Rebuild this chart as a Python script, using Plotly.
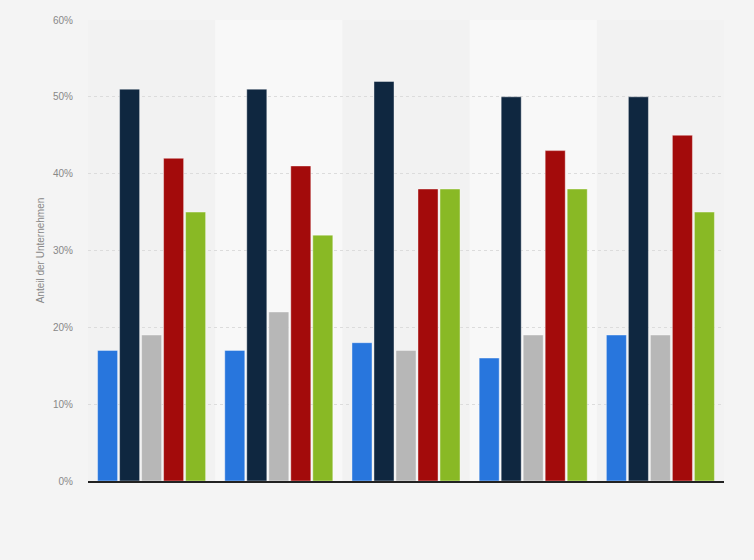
import plotly.graph_objects as go

# Gruppen (keine Beschriftung im Original sichtbar)
categories = ["A", "B", "C", "D", "E"]

series_names = ["Reihe 1", "Reihe 2", "Reihe 3", "Reihe 4", "Reihe 5"]
series_values = [
    [17, 17, 18, 16, 19],
    [51, 51, 52, 50, 50],
    [19, 22, 17, 19, 19],
    [42, 41, 38, 43, 45],
    [35, 32, 38, 38, 35],
]
colors = ["#2876dd", "#0f2740", "#b7b7b7", "#a30b0b", "#89b925"]

y_ticks = [0, 10, 20, 30, 40, 50, 60]
y_labels = ["0%", "10%", "20%", "30%", "40%", "50%", "60%"]

fig = go.Figure()

for name, vals, col in zip(series_names, series_values, colors):
    fig.add_trace(go.Bar(
        x=categories,
        y=vals,
        name=name,
        marker=dict(color=col, line=dict(color="rgba(255,255,255,0.4)", width=1)),
        hovertemplate='%{y}%<extra>' + name + '</extra>'
    ))

# lighter bands behind every second group
for i in (1, 3):
    fig.add_shape(type="rect", xref="x", yref="paper",
                  x0=i - 0.5, x1=i + 0.5, y0=0, y1=1,
                  fillcolor="#f8f8f8", line_width=0, layer="below")

fig.update_layout(
    width=754,
    height=560,
    paper_bgcolor="#f4f4f4",
    plot_bgcolor="#f2f2f2",
    margin=dict(l=88, r=30, t=20, b=79),
    barmode="group",
    bargap=0.135,
    bargroupgap=0.09,
    showlegend=False,
    font=dict(family="Arial, Liberation Sans, sans-serif", size=10, color="#888888"),
    xaxis=dict(
        range=[-0.5, 4.5],
        showticklabels=False,
        showgrid=False,
        showline=True,
        linecolor="#222222",
        linewidth=1.5,
        ticks="",
        zeroline=False,
    ),
    yaxis=dict(
        range=[0, 60],
        tickvals=y_ticks,
        ticktext=y_labels,
        showgrid=True,
        gridcolor="#dcdcdc",
        griddash="dot",
        gridwidth=1,
        zeroline=False,
        ticks="",
        ticklabelstandoff=14,
        title=dict(text="Anteil der Unternehmen", font=dict(size=10, color="#888888"), standoff=6),
    ),
)

# page without the default body margin, no modebar
fig.write_html("out.html", config={"displayModeBar": False},
               post_script="document.body.style.margin='0';")
